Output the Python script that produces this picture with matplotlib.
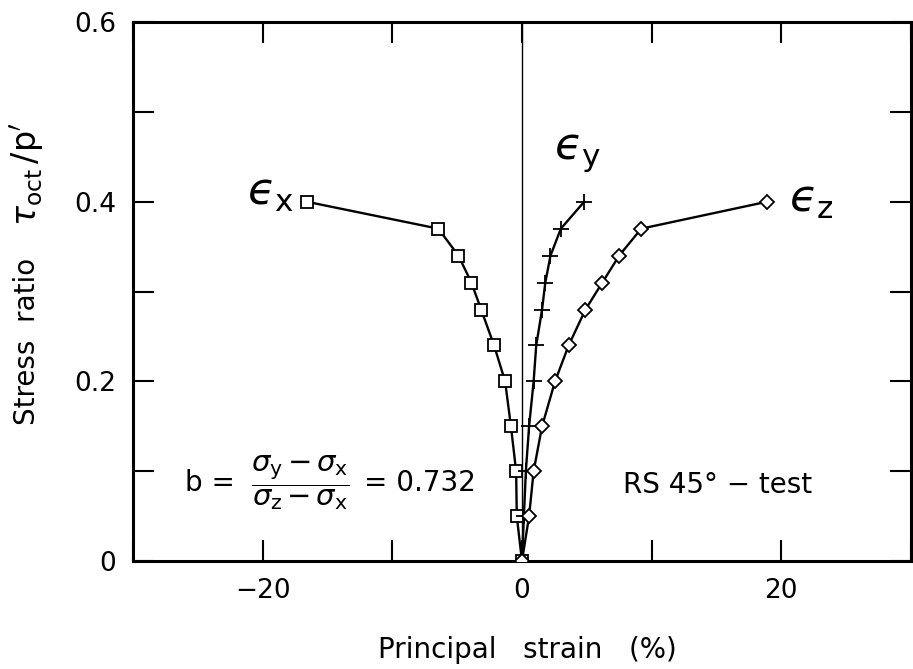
import matplotlib
matplotlib.use("Agg")
import matplotlib.pyplot as plt

# Stress ratio tau_oct / p' levels (shared by all three strain components)
stress_ratio = [0.0, 0.05, 0.10, 0.15, 0.20, 0.24, 0.28, 0.31, 0.34, 0.37, 0.40]

# Principal strains (%) at each stress level
strain_x = [0.0, -0.4, -0.45, -0.85, -1.3, -2.15, -3.15, -3.9, -4.9, -6.45, -16.6]
strain_y = [0.0, 0.15, 0.3, 0.55, 0.9, 1.1, 1.55, 1.8, 2.2, 3.0, 4.8]
strain_z = [0.0, 0.55, 0.9, 1.55, 2.55, 3.6, 4.9, 6.2, 7.5, 9.2, 18.9]

x_ticks = [-30, -20, -10, 0, 10, 20, 30]
x_ticklabels = ["", "\u221220", "", "0", "", "20", ""]
y_ticks = [0.0, 0.1, 0.2, 0.3, 0.4, 0.5, 0.6]
y_ticklabels = ["0", "", "0.2", "", "0.4", "", "0.6"]

plt.rcParams["font.family"] = ["DejaVu Sans"]
plt.rcParams["mathtext.fontset"] = "dejavusans"

fig = plt.figure(figsize=(9.13, 6.69), dpi=100)
ax = fig.add_axes([0.1457, 0.1614, 0.852, 0.8056])

ax.axvline(0, color="black", lw=1.0, zorder=1)

mk = dict(color="black", lw=1.7, mfc="white", mec="black", mew=1.3, zorder=3)
ax.plot(strain_x, stress_ratio, marker="s", ms=8.5, **mk)
ax.plot(strain_y, stress_ratio, marker="+", ms=12, **mk)
ax.plot(strain_z, stress_ratio, marker="D", ms=7.5, **mk)

ax.set_xlim(-30, 30)
ax.set_ylim(0, 0.6)
ax.set_xticks(x_ticks)
ax.set_xticklabels(x_ticklabels)
ax.set_yticks(y_ticks)
ax.set_yticklabels(y_ticklabels)
ax.tick_params(direction="in", length=15, width=1.5, labelsize=19,
               top=True, right=True, pad=12)
for s in ax.spines.values():
    s.set_linewidth(2.2)

# Curve labels (lunate epsilon)
eps = "\u03f5"
ax.text(-19.4, 0.41, "$" + eps + r"_{\mathrm{x}}$", fontsize=32, ha="center", va="center")
ax.text(4.3, 0.455, "$" + eps + r"_{\mathrm{y}}$", fontsize=32, ha="center", va="center")
ax.text(22.3, 0.402, "$" + eps + r"_{\mathrm{z}}$", fontsize=32, ha="center", va="center")

# Intermediate principal stress parameter and test name
ax.text(-26.0, 0.087, "b =", fontsize=20, ha="left", va="center")
ax.text(-17.1, 0.087,
        r"$\dfrac{\sigma_{\mathrm{y}}\,{-}\,\sigma_{\mathrm{x}}}{\sigma_{\mathrm{z}}\,{-}\,\sigma_{\mathrm{x}}}$",
        fontsize=21, ha="center", va="center")
ax.text(-12.2, 0.087, "= 0.732", fontsize=20, ha="left", va="center")
ax.text(7.8, 0.085, "RS 45\u00b0 \u2212 test", fontsize=20, ha="left", va="center")

# Axis labels
fig.text(0.578, 0.028, "Principal   strain   (%)", fontsize=20, ha="center", va="center")
fig.text(0.030, 0.49, "Stress  ratio", fontsize=20, rotation=90, ha="center", va="center")
fig.text(0.030, 0.74, r"$\tau_{\mathrm{oct}}\,/\mathrm{p}'$", fontsize=24,
         rotation=90, ha="center", va="center")

fig.savefig("out.png", dpi=100)
